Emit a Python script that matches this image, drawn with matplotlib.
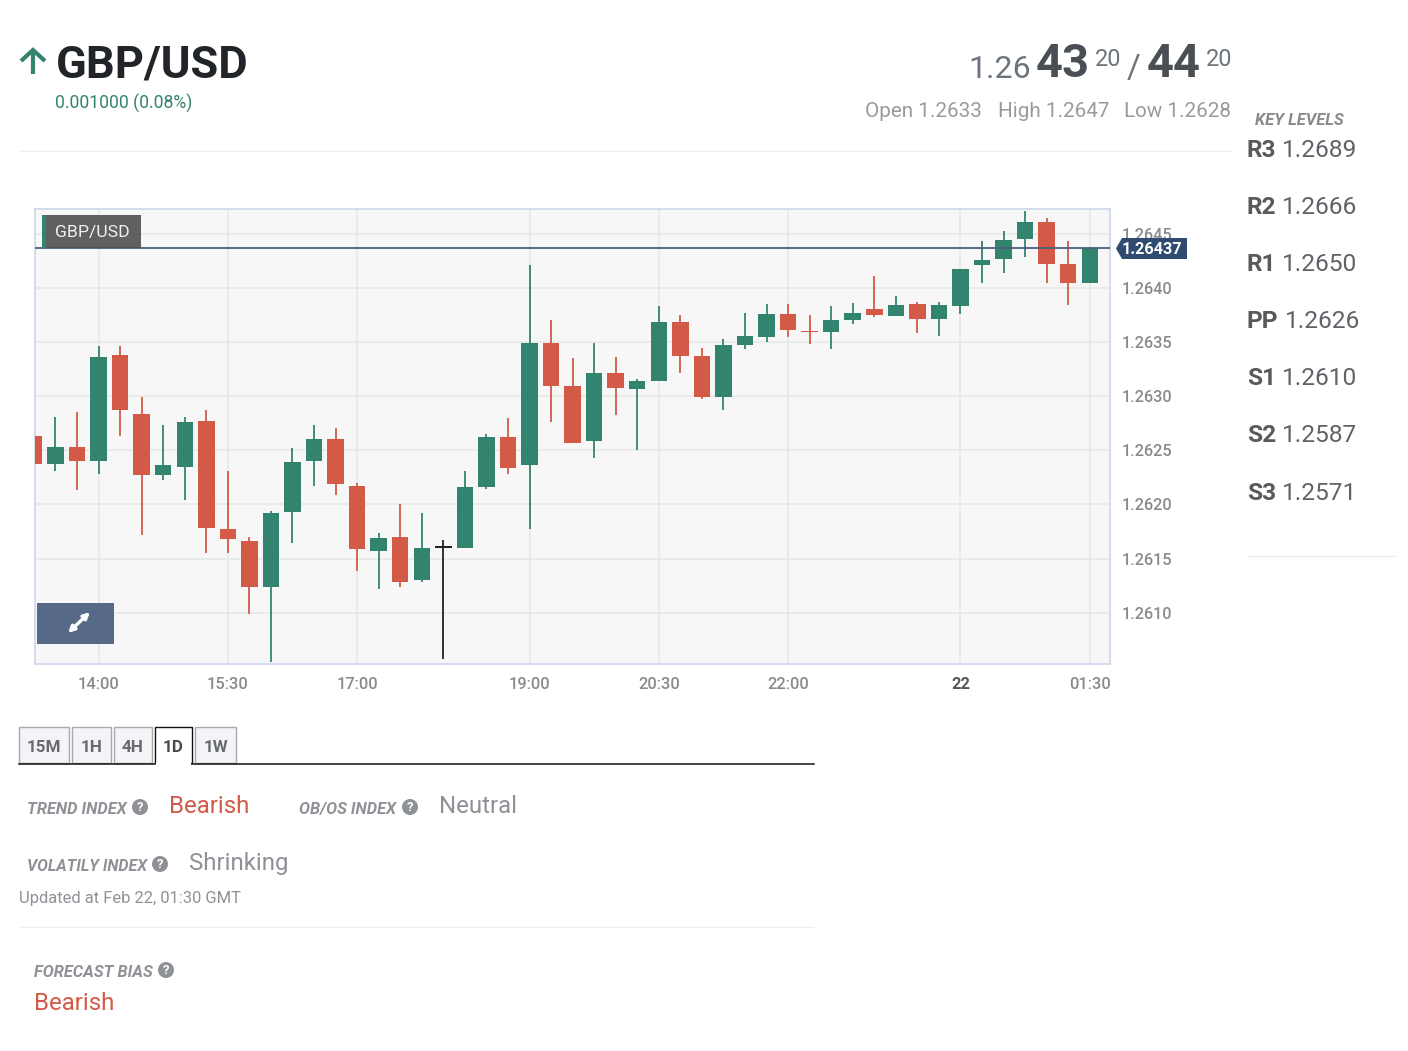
import matplotlib
matplotlib.use("Agg")
import matplotlib.pyplot as plt
from matplotlib.patches import Rectangle, Polygon, Circle

plt.rcParams['font.family'] = ['Roboto', 'DejaVu Sans']

# ---- data ----
opens = [1.26263,1.26237,1.26253,1.26240,1.26338,1.26284,1.26227,1.26235,1.26277,1.26177,
         1.26166,1.26124,1.26193,1.26240,1.26260,1.26217,1.26157,1.26170,1.26130,1.26160,
         1.26160,1.26216,1.26262,1.26236,1.26349,1.26309,1.26259,1.26321,1.26307,1.26314,
         1.26369,1.26337,1.26299,1.26347,1.26355,1.26376,1.26360,1.26359,1.26370,1.26381,
         1.26374,1.26385,1.26371,1.26383,1.26421,1.26427,1.26445,1.26461,1.26422,1.26405]
highs = [1.26309,1.26281,1.26285,1.26346,1.26346,1.26299,1.26273,1.26281,1.26287,1.26231,
         1.26170,1.26194,1.26252,1.26273,1.26271,1.26220,1.26174,1.26200,1.26192,1.26167,
         1.26231,1.26265,1.26280,1.26421,1.26370,1.26335,1.26349,1.26336,1.26316,1.26383,
         1.26375,1.26345,1.26353,1.26377,1.26385,1.26385,1.26375,1.26383,1.26386,1.26411,
         1.26393,1.26387,1.26387,1.26418,1.26443,1.26453,1.26471,1.26465,1.26443,1.26437]
lows = [1.26224,1.26231,1.26213,1.26228,1.26263,1.26172,1.26223,1.26204,1.26155,1.26155,
        1.26099,1.26054,1.26164,1.26217,1.26209,1.26138,1.26122,1.26124,1.26128,1.26057,
        1.26160,1.26214,1.26228,1.26177,1.26276,1.26257,1.26243,1.26283,1.26250,1.26314,
        1.26321,1.26297,1.26287,1.26344,1.26350,1.26355,1.26348,1.26344,1.26367,1.26373,
        1.26374,1.26358,1.26356,1.26376,1.26405,1.26414,1.26429,1.26405,1.26384,1.26405]
closes = [1.26237,1.26253,1.26240,1.26336,1.26287,1.26227,1.26236,1.26276,1.26178,1.26168,
          1.26124,1.26192,1.26239,1.26260,1.26219,1.26159,1.26169,1.26128,1.26160,1.26160,
          1.26216,1.26262,1.26234,1.26349,1.26309,1.26257,1.26321,1.26308,1.26314,1.26369,
          1.26337,1.26299,1.26347,1.26356,1.26376,1.26361,1.26359,1.26370,1.26377,1.26375,
          1.26384,1.26371,1.26384,1.26418,1.26426,1.26444,1.26461,1.26422,1.26405,1.26437]
last_price = 1.26437
y_ticks = [1.2610,1.2615,1.2620,1.2625,1.2630,1.2635,1.2640,1.2645]
x_tick_pos = [3,9,15,23,29,35,43,49]
x_tick_labels = ['14:00','15:30','17:00','19:00','20:30','22:00','22','01:30']
level_names = ['R3','R2','R1','PP','S1','S2','S3']
level_values = ['1.2689','1.2666','1.2650','1.2626','1.2610','1.2587','1.2571']
tabs = ['15M','1H','4H','1D','1W']

# ---- style ----
W, H = 1408, 1051
GREEN, RED, BLACK = '#33846f', '#d35a47', '#222222'
GRAY, DARK = '#8e9196', '#212529'
fig = plt.figure(figsize=(W/100, H/100), dpi=100, facecolor='white')
px = 0.72

ax = fig.add_axes([35/W, 1-664/H, (1110-35)/W, (664-209)/H], facecolor='#f7f7f7')
ax.set_xlim(0.05, 49.94)
ax.set_ylim(1.260525, 1.26473)
ax.set_yticks(y_ticks)
ax.set_yticklabels([f'{v:.4f}' for v in y_ticks])
ax.set_xticks(x_tick_pos)
ax.set_xticklabels(x_tick_labels)
ax.yaxis.tick_right()
ax.tick_params(axis='y', length=0, pad=8.6, labelsize=16.2*px, labelcolor='#8a8a8a')
ax.tick_params(axis='x', length=0, pad=9.7, labelsize=16.4*px, labelcolor='#8a8a8a')
for lab in ax.get_xticklabels() + ax.get_yticklabels():
    lab.set_fontweight('medium')
for lab in ax.get_xticklabels():
    if lab.get_text() == '22':
        lab.set_fontweight('bold')
        lab.set_color('#555555')
ax.grid(True, color='#e7e7e7', lw=1.1)
ax.set_axisbelow(True)
for s in ax.spines.values():
    s.set_color('#ccd6eb')
    s.set_linewidth(1.2)

for i, (o, h, l, c) in enumerate(zip(opens, highs, lows, closes)):
    col = BLACK if abs(o-c) < 1e-9 else (GREEN if c > o else RED)
    ax.vlines(i, l, h, color=col, lw=1.3, zorder=3)
    ax.bar(i, max(abs(c-o), 1.2e-5), bottom=min(o, c), width=0.765, color=col, zorder=4, lw=0)
ax.axhline(last_price, color='#47607f', lw=1.3, zorder=5)

# overlay in pixel coordinates for page furniture
ov = fig.add_axes([0, 0, 1, 1], facecolor='none')
ov.set_xlim(0, W); ov.set_ylim(H, 0); ov.axis('off')

def T(x, y, s, size, color=DARK, weight='normal', style='normal', ha='left', va='baseline'):
    return ov.text(x, y, s, fontsize=size*px, color=color, fontweight=weight, fontstyle=style, ha=ha, va=va)

def help_icon(x, y):
    ov.add_patch(Circle((x, y), 8, color=GRAY, lw=0))
    T(x, y+0.5, '?', 13, 'white', 'bold', ha='center', va='center')

def hline(x0, x1, y, color='#eeeeee', lw=1.0):
    ov.plot([x0, x1], [y, y], color=color, lw=lw, solid_capstyle='butt')

# header
ov.plot([33, 33], [74, 50], color=GREEN, lw=3, solid_capstyle='butt')
ov.plot([21, 33, 45], [61, 50, 61], color=GREEN, lw=3, solid_joinstyle='miter', solid_capstyle='butt')
T(55.5, 78, 'GBP/USD', 45.3, DARK, 'bold')
T(55, 109, '0.001000 (0.08%)', 17.6, GREEN)
T(968, 77.5, '1.26', 32, '#6c757d')
T(1036, 77, '43', 47, '#4a4f55', 'bold')
T(1095, 65.5, '20', 23.5, '#6c757d')
T(1127, 78.5, '/', 33.5, '#6c757d')
T(1147, 77, '44', 47, '#4a4f55', 'bold')
T(1206, 65.5, '20', 23.5, '#6c757d')
T(982, 117, 'Open 1.2633', 20.7, '#9a9a9a', ha='right')
T(1109, 117, 'High 1.2647', 20.7, '#9a9a9a', ha='right')
T(1231, 117, 'Low 1.2628', 20.7, '#9a9a9a', ha='right')
hline(19, 1231, 151)

# key levels
T(1255, 125, 'KEY LEVELS', 16.5, '#8a8a8a', 'bold', 'italic')
level_y = [157, 214, 271, 328, 385, 442, 500]
for name, val, y in zip(level_names, level_values, level_y):
    T(1247, y, name, 24.5, '#5a5a5a', 'bold')
    T(1284.5 if name == 'PP' else 1281.5, y, val, 24.5, '#5f6368')
hline(1247, 1397, 556)

# chart overlays
ov.add_patch(Rectangle((42, 215), 99, 33, color='#4f4f4f', alpha=0.9, lw=0))
ov.add_patch(Rectangle((42, 215), 4, 33, color=GREEN, lw=0))
T(55, 237, 'GBP/USD', 17.5, '#f2f2f2')
ov.add_patch(Rectangle((37, 603), 77, 41, color='#566a87', lw=0))
ov.annotate('', xy=(90, 612), xytext=(68, 633),
            arrowprops=dict(arrowstyle='<|-|>', color='white', lw=2.4, mutation_scale=9, shrinkA=0, shrinkB=0))
ov.add_patch(Polygon([(1116, 248.5), (1122, 238), (1187, 238), (1187, 259), (1122, 259)], color='#2f4b70', lw=0))
T(1122, 254, '1.26437', 16.3, 'white', 'bold')

# tabs
tab_x = [(19, 69), (72, 111), (114, 152), (155, 192), (195, 236)]
for name, (a, b) in zip(tabs, tab_x):
    active = name == '1D'
    ov.add_patch(Rectangle((a, 727), b-a, 36, fc='white' if active else '#f3f3f8',
                           ec='#111111' if active else '#aaaaaa', lw=1.0))
    T((a+b)/2, 752, name, 17, '#666a6e' if not active else '#4a4a4a', 'bold', ha='center')
ov.plot([19, 155], [763.5, 763.5], color='#111111', lw=1.1)
ov.plot([192, 814], [763.5, 763.5], color='#111111', lw=1.1)
ov.add_patch(Rectangle((156, 762), 35, 3, color='white', lw=0))

# indices
T(27, 814, 'TREND INDEX', 16.4, GRAY, 'bold', 'italic')
help_icon(140, 807)
T(169, 813, 'Bearish', 24, RED)
T(299, 814, 'OB/OS INDEX', 16.4, GRAY, 'bold', 'italic')
help_icon(410, 807)
T(439, 813, 'Neutral', 24, GRAY)
T(27, 871, 'VOLATILY INDEX', 16.0, GRAY, 'bold', 'italic')
help_icon(160, 864)
T(189, 870, 'Shrinking', 24, GRAY)
T(19, 903, 'Updated at Feb 22, 01:30 GMT', 16.5, GRAY)
hline(19, 814, 927)
T(34, 977, 'FORECAST BIAS', 16.4, GRAY, 'bold', 'italic')
help_icon(166, 970)
T(34, 1010, 'Bearish', 24, RED)

fig.savefig('out.png', dpi=100, facecolor='white')
